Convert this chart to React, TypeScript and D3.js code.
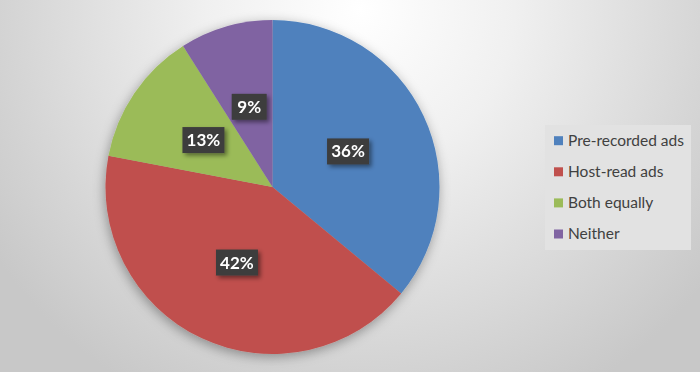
import React from "react";
import * as d3 from "d3";

const categories = ["Pre-recorded ads", "Host-read ads", "Both equally", "Neither"];
const values = [36, 42, 13, 9];
const colors = ["#4f81bd", "#c0504d", "#9bbb59", "#8064a2"];

const W = 700;
const H = 372;
const cx = 272.5;
const cy = 187;
const R = 167;

export default function App() {
  const pie = d3.pie<number>().sort(null).value((d) => d)(values);
  const arc = d3.arc<d3.PieArcDatum<number>>().innerRadius(0).outerRadius(R);
  const total = d3.sum(values);
  const legendY = d3.scalePoint<string>().domain(categories).range([140.7, 234]);

  return (
    <svg
      width={W}
      height={H}
      style={{ position: "fixed", left: 0, top: 0 }}
      xmlns="http://www.w3.org/2000/svg"
    >
      <defs>
        <radialGradient id="bg" gradientUnits="userSpaceOnUse" cx={360} cy={10} r={440}>
          <stop offset="0" stopColor="#ffffff" />
          <stop offset="0.35" stopColor="#f0f0f0" />
          <stop offset="1" stopColor="#c8c8c8" />
        </radialGradient>
        <filter id="pieShadow" x="-20%" y="-20%" width="140%" height="140%">
          <feDropShadow dx="-1" dy="3" stdDeviation="6" floodColor="#000" floodOpacity="0.35" />
        </filter>
        <filter id="lblShadow" x="-30%" y="-30%" width="160%" height="160%">
          <feDropShadow dx="2.5" dy="2.5" stdDeviation="2" floodColor="#000" floodOpacity="0.45" />
        </filter>
      </defs>
      <rect x={0} y={0} width={W} height={H} fill="url(#bg)" />
      <g transform={`translate(${cx},${cy})`}>
        <g filter="url(#pieShadow)">
          {pie.map((p, i) => (
            <path key={i} d={arc(p) || ""} fill={colors[i]} />
          ))}
        </g>
        {pie.map((p, i) => {
          const [x, y] = arc.centroid(p);
          const label = `${Math.round((p.value / total) * 100)}%`;
          const w = label.length === 2 ? 35 : 42;
          return (
            <g key={i} transform={`translate(${x},${y})`}>
              <rect
                x={-w / 2}
                y={-13}
                width={w}
                height={26}
                fill="#3d3d3d"
                filter="url(#lblShadow)"
              />
              <text
                x={0}
                y={6}
                textAnchor="middle"
                fill="#ffffff"
                fontFamily="Lato, 'Open Sans', sans-serif"
                fontWeight="bold"
                fontSize={17}
              >
                {label}
              </text>
            </g>
          );
        })}
      </g>
      <g>
        <rect x={545} y={125} width={146} height={125} fill="#e2e2e2" />
        {categories.map((c, i) => {
          const yc = legendY(c) || 0;
          return (
            <g key={c}>
              <rect x={554} y={yc - 4.5} width={9} height={9} fill={colors[i]} />
              <text
                x={568}
                y={yc + 5}
                fill="#404040"
                fontFamily="Lato, 'Open Sans', sans-serif"
                fontSize={15.5}
              >
                {c}
              </text>
            </g>
          );
        })}
      </g>
    </svg>
  );
}
